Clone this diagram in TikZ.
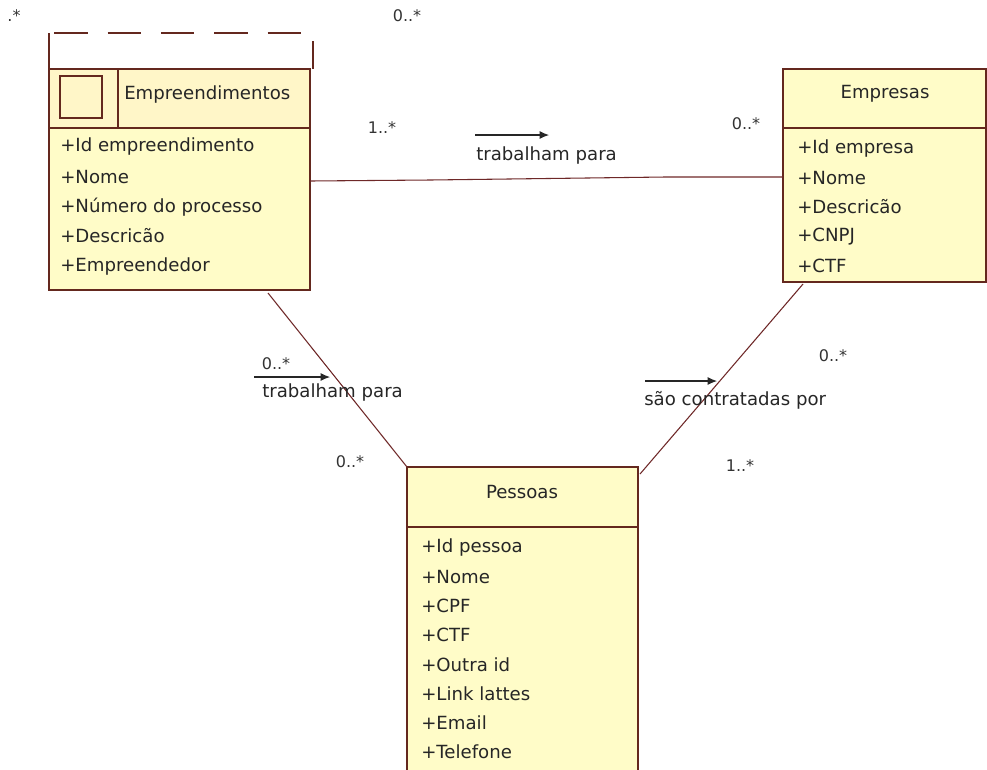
\documentclass[tikz,border=0pt]{standalone}
\usepackage{fontspec}
\setmainfont{DejaVu Sans}
\usetikzlibrary{arrows.meta}
\definecolor{umlfill}{RGB}{255,252,200}
\definecolor{umlhead}{RGB}{255,246,200}
\definecolor{umlline}{RGB}{100,40,30}
\definecolor{assoc}{RGB}{110,40,40}
\tikzset{
  box/.style={draw=umlline, fill=umlfill, line width=1.1pt},
  divider/.style={draw=umlline, line width=1.1pt},
  attr/.style={anchor=west, inner sep=0pt, font=\fontsize{13.6}{15}\selectfont, text=black!85},
  title/.style={inner sep=0pt, font=\fontsize{13.6}{15}\selectfont, text=black!85},
  mult/.style={inner sep=0pt, font=\fontsize{12}{14}\selectfont, text=black!80},
  link/.style={draw=assoc, line width=0.8pt},
  dirarrow/.style={draw=black!85, line width=0.8pt, -{Latex[length=7pt,width=6pt]}}
}
\begin{document}
\begin{tikzpicture}[x=0.75pt,y=-0.75pt]
\useasboundingbox (0,0) rectangle (987,769);

% Empreendimentos: dashed frame above the class box
\draw[umlline, line width=1.1pt] (49,69) -- (49,33);
\draw[umlline, line width=1.1pt, dash pattern=on 25pt off 15pt, dash phase=36pt] (49,33) -- (313,33) -- (313,69);
\draw[box] (49,69) rectangle (310,290);
\path[fill=umlhead] (50,70) rectangle (309,127);
\draw[divider] (49,128) -- (310,128);
\draw[divider] (118,69) -- (118,128);
\draw[umlline, line width=1.1pt] (60,76) rectangle (102,118);
\coordinate (empR) at (310,181);
\coordinate (empB) at (268,293);
\node[title, anchor=west] (empT) at (124,94) {Empreendimentos};
\node[attr] (e1) at (60,146) {+Id empreendimento};
\node[attr] (e2) at (60,177) {+Nome};
\node[attr] (e3) at (60,207) {+Número do processo};
\node[attr] (e4) at (60,236) {+Descricão};
\node[attr] (e5) at (60,266) {+Empreendedor};

% Empresas
\draw[box] (783,69) rectangle (986,282);
\draw[divider] (783,128) -- (986,128);
\coordinate (empresaL) at (783,177);
\coordinate (empresaB) at (803,284);
\node[title] (empresaT) at (885,94) {Empresas};
\node[attr] (c1) at (797,148) {+Id empresa};
\node[attr] (c2) at (797,178) {+Nome};
\node[attr] (c3) at (797,207) {+Descricão};
\node[attr] (c4) at (797,237) {+CNPJ};
\node[attr] (c5) at (797,266) {+CTF};

% Pessoas
\draw[box] (407,467) rectangle (638,775);
\draw[divider] (407,527) -- (638,527);
\coordinate (pesTL) at (407,467);
\coordinate (pesTR) at (640,474);
\node[title] (pesT) at (522,492) {Pessoas};
\node[attr] (p1) at (421,547) {+Id pessoa};
\node[attr] (p2) at (421,577) {+Nome};
\node[attr] (p3) at (421,606) {+CPF};
\node[attr] (p4) at (421,635) {+CTF};
\node[attr] (p5) at (421,665) {+Outra id};
\node[attr] (p6) at (421,694) {+Link lattes};
\node[attr] (p7) at (421,723) {+Email};
\node[attr] (p8) at (421,752) {+Telefone};

% associations
\draw[link] (empR) -- (430,180) -- (665,177) -- (empresaL);
\draw[link] (empB) -- (pesTL);
\draw[link] (empresaB) -- (pesTR);

% association names with reading direction
\coordinate (a1s) at (475,135); \coordinate (a1e) at (549,135);
\draw[dirarrow] (a1s) -- (a1e);
\node[title, anchor=west] (n1) at (476,155) {trabalham para};
\coordinate (a2s) at (254,377); \coordinate (a2e) at (330,377);
\draw[dirarrow] (a2s) -- (a2e);
\node[title, anchor=west] (n2) at (262,392) {trabalham para};
\coordinate (a3s) at (645,381); \coordinate (a3e) at (717,381);
\draw[dirarrow] (a3s) -- (a3e);
\node[title, anchor=west] (n3) at (644,400) {são contratadas por};

% multiplicities
\node[mult] (m0) at (14,16) {.*};
\node[mult] (m1) at (407,16) {0..*};
\node[mult] (m2) at (382,128) {1..*};
\node[mult] (m3) at (746,124) {0..*};
\node[mult] (m4) at (276,364) {0..*};
\node[mult] (m5) at (350,462) {0..*};
\node[mult] (m6) at (833,356) {0..*};
\node[mult] (m7) at (740,466) {1..*};
\end{tikzpicture}
\end{document}
